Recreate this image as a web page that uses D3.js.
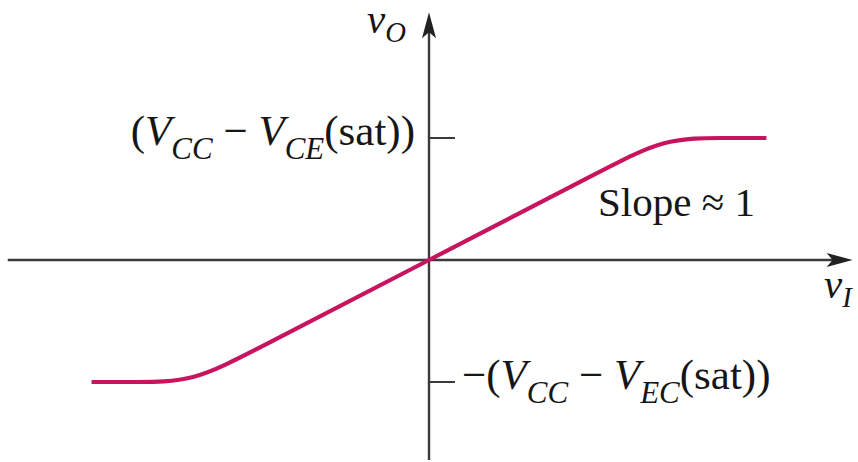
<!DOCTYPE html>
<html>
<head>
<meta charset="utf-8">
<script src="https://cdn.jsdelivr.net/npm/d3@7"></script>
<style>
  html, body { margin: 0; padding: 0; background: #fff; }
  svg { display: block; }
  text { font-family: "Liberation Serif", "Times New Roman", Times, serif; fill: #161616; }
</style>
</head>
<body>
<svg id="chart" width="858" height="462"></svg>
<script>
// Transfer characteristic of the complementary push-pull output stage (B-spline control points)
const vI = [-14.3, -12.5, -10, -7.5, 0, 7.5, 10, 12.5, 14.3];
const vO = [-10, -10, -10, -7.5, 0, 7.5, 10, 10, 10];

// Saturation levels marked on the vO axis and their labels
const vOTicks = [10, -10];
const vOTickLabels = ["(*V*_{CC} − *V*_{CE}(sat))", "−(*V*_{CC} − *V*_{EC}(sat))"];

// Axis extents (in volts) and axis titles
const vIExtent = [-17.85, 17.95];
const vOExtent = [-16.4, 20.3];
const xTitle = "*v*_{I}";
const yTitle = "*v*_{O}";
const slopeNote = "Slope ≈ 1";

const svg = d3.select("#chart");
const x = d3.scaleLinear().domain([-10, 10]).range([193, 665]);
const y = d3.scaleLinear().domain([-10, 10]).range([382, 138]);

const axisColor = "#3a3a3a";
const curveColor = "#c8145f";
const serif = "'Liberation Serif', 'Times New Roman', Times, serif";

// Horizontal (vI) axis
svg.append("line")
  .attr("x1", x(vIExtent[0])).attr("x2", x(vIExtent[1]) - 12)
  .attr("y1", y(0)).attr("y2", y(0))
  .attr("stroke", axisColor).attr("stroke-width", 2.4);

// Vertical (vO) axis
svg.append("line")
  .attr("x1", x(0)).attr("x2", x(0))
  .attr("y1", y(vOExtent[1]) + 12).attr("y2", y(vOExtent[0]))
  .attr("stroke", axisColor).attr("stroke-width", 2.4);

// Arrowheads
const arrowPath = "M0,0 L-26,-7 L-20,0 L-26,7 Z";
svg.append("path")
  .attr("d", arrowPath)
  .attr("transform", `translate(${x(vIExtent[1])},${y(0)})`)
  .attr("fill", "#222");
svg.append("path")
  .attr("d", arrowPath)
  .attr("transform", `translate(${x(0)},${y(vOExtent[1])}) rotate(-90)`)
  .attr("fill", "#222");

// Ticks on the vO axis
svg.selectAll("line.tick")
  .data(vOTicks)
  .join("line")
  .attr("class", "tick")
  .attr("x1", x(0)).attr("x2", x(0) + 26)
  .attr("y1", d => y(d)).attr("y2", d => y(d))
  .attr("stroke", axisColor).attr("stroke-width", 2);

// Rich text helper: *..* italic, _{..} italic subscript
function richText(sel, markup, size, subScale = 0.7, drop = 0.33) {
  const parts = markup.match(/\*[^*]+\*|_\{[^}]+\}|[^*_]+/g);
  let lowered = false;
  const sub = size * drop;
  sel.attr("font-family", serif).attr("font-size", size);
  parts.forEach(p => {
    const t = sel.append("tspan");
    if (p.startsWith("*")) {
      t.text(p.slice(1, -1)).attr("font-style", "italic");
      if (lowered) { t.attr("dy", -sub); lowered = false; }
    } else if (p.startsWith("_{")) {
      t.text(p.slice(2, -1)).attr("font-style", "italic")
        .attr("font-size", size * subScale).attr("dy", sub);
      lowered = true;
    } else {
      t.text(p);
      if (lowered) { t.attr("dy", -sub); lowered = false; }
    }
  });
}

const fs = 41;
const tickFs = 43;

// Tick labels
const topLabel = svg.append("text")
  .attr("x", x(0) - 14).attr("y", y(vOTicks[0]) + 7)
  .attr("text-anchor", "end");
richText(topLabel, vOTickLabels[0], tickFs, 0.72);

const botLabel = svg.append("text")
  .attr("x", x(0) + 33).attr("y", y(vOTicks[1]) + 7)
  .attr("text-anchor", "start");
richText(botLabel, vOTickLabels[1], tickFs, 0.72);

// Axis titles
const yt = svg.append("text")
  .attr("x", x(0) - 62).attr("y", 33);
richText(yt, yTitle, fs, 0.7, 0.22);

const xt = svg.append("text")
  .attr("x", 824).attr("y", 298);
richText(xt, xTitle, fs, 0.7, 0.22);

// Slope annotation
const sn = svg.append("text")
  .attr("x", 598).attr("y", 216);
richText(sn, slopeNote, fs);

// Characteristic curve
const pts = vI.map((v, i) => [v, vO[i]]);
svg.append("path")
  .datum(pts)
  .attr("d", d3.line().x(d => x(d[0])).y(d => y(d[1])).curve(d3.curveBasis))
  .attr("fill", "none")
  .attr("stroke", curveColor)
  .attr("stroke-width", 4.2)
  .attr("stroke-linecap", "butt");
</script>
</body>
</html>
